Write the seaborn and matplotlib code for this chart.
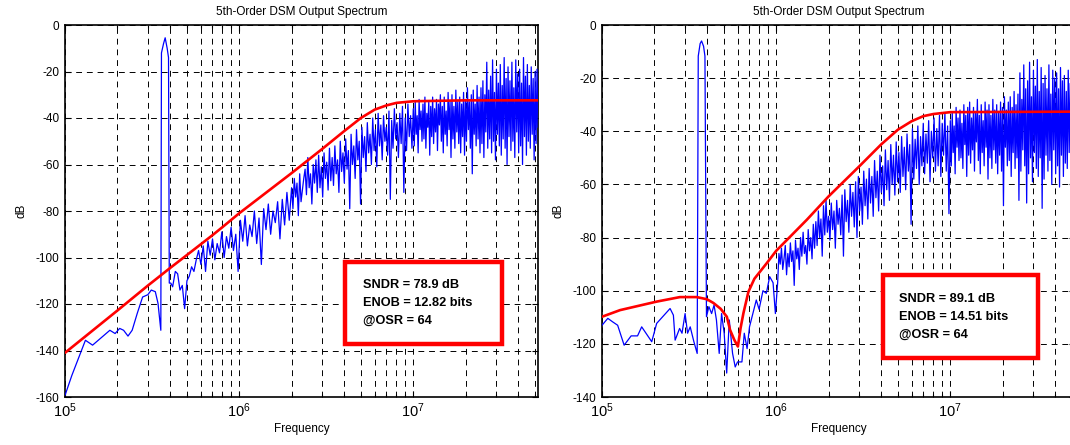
import numpy as np
import pandas as pd
import seaborn as sns
import matplotlib
matplotlib.use('Agg')
import matplotlib.pyplot as plt
from matplotlib.patches import Rectangle
from matplotlib.ticker import LogLocator, NullFormatter


#######################  DATA  #######################

# left panel: low-frequency part of the spectrum incl. the signal tone
left_low_f = [1.0e5, 1.095e5, 1.31e5, 1.44e5, 1.81e5, 1.94e5, 2.06e5, 2.17e5, 2.30e5,
              2.43e5, 2.60e5, 2.79e5, 2.99e5, 3.13e5, 3.30e5, 3.42e5, 3.55e5, 3.58e5,
              3.68e5, 3.76e5, 3.86e5, 3.93e5, 3.97e5, 4.05e5, 4.15e5]
left_low_db = [-159.3, -150.7, -135.6, -137.7, -131.3, -132.7, -130.5, -131.3, -133.8,
               -131.3, -124, -117, -116, -114, -114.7, -119.7, -131.3, -12,
               -8, -5.5, -10, -14, -111, -111, -112.6]

# left panel: noisy part, three stretches (start, end, values)
left_a = [-106, -107, -114, -112, -122, -110, -108, -104, -106, -101,
          -97, -103, -95, -106, -93, -99, -92, -101, -94, -98,
          -89, -100, -91, -96, -87, -97, -90, -106, -84, -93,
          -82, -95, -86, -91, -80, -94, -83, -103, -79, -88,
          -77, -90, -80, -85, -76, -92, -75, -86, -72, -84]
left_b = [-70, -79, -66, -74, -68, -82, -64, -76, -71, -66,
          -62, -73, -57, -70, -64, -77, -60, -68, -58, -72,
          -56, -70, -61, -74, -55, -66, -59, -71, -53, -67,
          -57, -69, -52, -64, -58, -72, -50, -63, -55, -68,
          -49, -62, -54, -79, -47, -60, -52, -66, -45, -58,
          -50, -77, -44, -57, -48, -63, -42, -55, -47, -60,
          -40, -54, -45, -61, -38, -52, -43, -58, -39, -50,
          -44, -56, -37, -75, -41, -53, -36, -49, -42, -57,
          -38, -51, -35, -72, -40, -54, -34, -48, -39, -53]
left_c = [-36, -52, -33, -47, -39, -55, -32, -45, -37, -50,
          -34, -49, -31, -53, -38, -44, -33, -56, -35, -48,
          -31, -51, -36, -46, -32, -54, -34, -43, -30, -50,
          -35, -55, -31, -47, -37, -52, -29, -45, -33, -57,
          -30, -49, -35, -53, -28, -46, -33, -51, -31, -55,
          -34, -48, -29, -56, -32, -50, -27, -45, -33, -53,
          -30, -64, -28, -47, -34, -52, -26, -49, -31, -55,
          -27, -51, -24, -57, -30, -46, -16, -53, -28, -49,
          -22, -55, -15, -50, -29, -58, -19, -47, -25, -52,
          -17, -56, -26, -49, -14, -53, -23, -60, -18, -48,
          -24, -54, -16, -50, -27, -57, -15, -46, -21, -55,
          -19, -52, -25, -60, -14, -48, -22, -56, -17, -50,
          -26, -53, -18, -47, -23, -58, -20, -51, -19, -44]
left_segments = [(4.3e5, 2.0e6, left_a), (2.0e6, 1.0e7, left_b), (1.0e7, 5.2e7, left_c)]

# left panel: noise transfer function
left_ntf_f = [1e5, 2e5, 3e5, 4e5, 5e5, 6e5, 7e5, 8e5, 1e6, 2e6, 3e6, 4e6, 5e6, 6e6,
              7e6, 8e6, 1e7, 2e7, 5.2e7]
left_ntf_db = [-141, -122.8, -112, -104.6, -99, -94.4, -90.5, -87, -81, -63.7, -53.3,
               -45.7, -40, -36.4, -34.6, -33.5, -32.8, -32.4, -32.4]

# right panel: low-frequency part of the spectrum incl. the signal tone
right_low_f = [1.0e5, 1.08e5, 1.15e5, 1.23e5, 1.34e5, 1.47e5, 1.6e5, 1.69e5, 1.93e5,
               2.06e5, 2.46e5, 2.57e5, 2.63e5, 2.79e5, 2.88e5, 3.0e5, 3.1e5, 3.21e5,
               3.37e5, 3.52e5, 3.57e5, 3.66e5, 3.73e5, 3.83e5, 3.90e5, 3.98e5, 4.11e5,
               4.26e5, 4.40e5, 4.54e5, 4.71e5, 4.86e5, 5.03e5, 5.20e5, 5.38e5, 5.62e5,
               5.82e5, 6.0e5, 6.36e5, 6.56e5, 6.81e5, 7.03e5, 7.35e5, 7.69e5, 7.98e5,
               8.4e5, 8.78e5, 9.18e5, 9.6e5, 9.9e5]
right_low_db = [-113, -110.4, -111.7, -113, -120.5, -117, -117, -113.6, -119.2,
                -112.3, -106.7, -109.2, -118.6, -114.2, -116, -108.6, -116, -113.6,
                -119.2, -123.6, -11.7, -7, -6, -8, -11.7, -109.8, -106,
                -108.6, -105.4, -111, -123.6, -108.6, -116, -131, -111, -123.6,
                -128.7, -126.8, -126.8, -116, -121.8, -113.6, -108.6, -103.5, -107,
                -100, -101, -94.7, -97, -108.6]

right_a = [-97, -86, -90, -84, -92, -88, -83, -94, -86, -91,
           -82, -89, -85, -98, -81, -88, -84, -92, -80, -87,
           -78, -86, -83, -90, -77, -85, -80, -88, -75, -84,
           -74, -83, -70, -80, -73, -87, -68, -79, -66, -78]
right_b = [-72, -81, -67, -77, -70, -84, -66, -75, -69, -79,
           -64, -87, -62, -74, -66, -78, -60, -72, -63, -76,
           -59, -80, -57, -70, -61, -75, -55, -68, -58, -73,
           -54, -67, -57, -72, -51, -65, -55, -70, -49, -63,
           -53, -68, -47, -62, -51, -66, -45, -60, -49, -64,
           -44, -59, -48, -63, -42, -57, -46, -62, -41, -55,
           -45, -75, -39, -58, -43, -54, -38, -60, -42, -53,
           -37, -56, -41, -52, -36, -59, -40, -50, -35, -55,
           -39, -53, -34, -57, -37, -49, -33, -55, -38, -71]
right_c = [-36, -53, -33, -48, -38, -56, -31, -46, -35, -51,
           -32, -50, -37, -54, -30, -45, -34, -57, -31, -49,
           -29, -52, -35, -47, -31, -55, -33, -44, -28, -51,
           -34, -56, -30, -48, -36, -53, -29, -46, -32, -58,
           -30, -50, -34, -54, -28, -47, -32, -52, -30, -56,
           -33, -49, -29, -55, -31, -68, -27, -46, -32, -53,
           -29, -51, -27, -57, -31, -48, -25, -54, -30, -50,
           -26, -66, -18, -55, -28, -47, -15, -53, -24, -67,
           -21, -56, -14, -50, -27, -59, -17, -48, -23, -54,
           -13, -57, -25, -50, -16, -69, -22, -58, -19, -49,
           -24, -55, -15, -51, -26, -60, -17, -47, -20, -56,
           -18, -53, -24, -61, -16, -49, -21, -57, -19, -52,
           -25, -54, -17, -48, -22, -59, -20, -52, -23, -46]
right_segments = [(1.02e6, 2.0e6, right_a), (2.0e6, 1.0e7, right_b), (1.0e7, 5.2e7, right_c)]

right_ntf_f = [1e5, 1.27e5, 2.06e5, 2.8e5, 3.5e5, 4.0e5, 4.36e5, 4.8e5, 5.21e5, 5.44e5,
               5.75e5, 6.03e5, 6.25e5, 6.49e5, 6.93e5, 7.5e5, 8.84e5, 1.0e6, 1.5e6, 2e6,
               3e6, 4e6, 5e6, 6e6, 7e6, 8e6, 1e7, 5.2e7]
right_ntf_db = [-109.8, -107.3, -104.1, -102.4, -102.4, -103.2, -104.6, -106.8, -109.8,
                -114.8, -118.5, -121, -114, -108.4, -100.4, -95.5, -89.6, -85, -73.3,
                -64.5, -53.2, -45, -39.4, -36.2, -34.3, -33.5, -32.8, -32.6]

left_box = ['SNDR = 78.9 dB', 'ENOB = 12.82 bits', '@OSR = 64']
right_box = ['SNDR = 89.1 dB', 'ENOB = 14.51 bits', '@OSR = 64']


#######################  HELPERS  #######################

def build_spectrum(low_f, low_db, segments):
    freqs = list(low_f)
    vals = list(low_db)
    for f0, f1, seg in segments:
        last = f1 == segments[-1][1]
        freqs += list(np.geomspace(f0, f1, len(seg), endpoint=last))
        vals += list(seg)
    return pd.DataFrame({'f': freqs, 'db': vals})


def draw_panel(ax, spec, ntf, ylow, lines, box, text_x, text_y):
    sns.lineplot(data=spec, x='f', y='db', ax=ax, color='#0000ff', lw=0.9,
                 estimator=None, sort=False, zorder=3)
    sns.lineplot(data=ntf, x='f', y='db', ax=ax, color='#ff0000', lw=1.9,
                 estimator=None, sort=False, zorder=4)
    ax.set_xscale('log')
    ax.set_xlim(1e5, 5.2e7)
    ax.set_ylim(ylow, 0)
    ax.set_yticks(list(range(ylow, 1, 20)))
    ax.xaxis.set_major_locator(LogLocator(base=10))
    ax.xaxis.set_minor_locator(LogLocator(base=10, subs=np.arange(2, 10)))
    ax.xaxis.set_minor_formatter(NullFormatter())
    grid_kw = dict(color='black', lw=0.7, linestyle=(0, (6, 5)))
    ax.grid(which='both', axis='x', **grid_kw)
    ax.grid(which='major', axis='y', **grid_kw)
    ax.set_axisbelow(True)
    ax.tick_params(which='both', direction='in', top=True, right=True,
                   labelsize=8.5, width=0.8, pad=4, colors='black')
    ax.tick_params(axis='x', which='major', labelsize=10.5, pad=3)
    ax.tick_params(which='major', length=4)
    ax.tick_params(which='minor', length=2)
    for sp in ax.spines.values():
        sp.set_linewidth(1.2)
        sp.set_color('black')
    ax.set_title('5th-Order DSM Output Spectrum', fontsize=8.5, pad=7, color='black')
    ax.set_xlabel('Frequency', fontsize=8.5, labelpad=2, color='black')
    ax.set_ylabel('dB', fontsize=8.5, labelpad=6, color='black')

    x0, y0, x1, y1 = box
    ax.add_patch(Rectangle((x0, y0), x1 - x0, y1 - y0, transform=ax.transAxes,
                           facecolor='white', edgecolor='#ff0000', lw=3.2, zorder=6))
    for line, ty in zip(lines, text_y):
        ax.text(text_x, ty, line, transform=ax.transAxes, fontsize=9.2,
                fontweight='bold', va='center', ha='left', color='black', zorder=7)


#######################  MAIN  #######################

sns.set_style('ticks')
plt.rcParams['font.family'] = ['Liberation Sans', 'DejaVu Sans']
plt.rcParams['mathtext.fontset'] = 'custom'
plt.rcParams['mathtext.rm'] = 'Liberation Sans'
plt.rcParams['axes.unicode_minus'] = False
plt.rcParams['text.color'] = 'black'

fig = plt.figure(figsize=(10.7, 4.45), dpi=100)
ax1 = fig.add_axes([65 / 1070, 48 / 445, 473 / 1070, 372 / 445])
ax2 = fig.add_axes([602 / 1070, 48 / 445, 473 / 1070, 372 / 445])

left_spec = build_spectrum(left_low_f, left_low_db, left_segments)
right_spec = build_spectrum(right_low_f, right_low_db, right_segments)
left_ntf = pd.DataFrame({'f': left_ntf_f, 'db': left_ntf_db})
right_ntf = pd.DataFrame({'f': right_ntf_f, 'db': right_ntf_db})

draw_panel(ax1, left_spec, left_ntf, -160, left_box,
           (0.592, 0.142, 0.924, 0.363), 0.630, [0.301, 0.253, 0.204])
draw_panel(ax2, right_spec, right_ntf, -140, right_box,
           (0.594, 0.105, 0.922, 0.328), 0.628, [0.263, 0.215, 0.167])

fig.savefig('out.png', dpi=100, facecolor='white')
